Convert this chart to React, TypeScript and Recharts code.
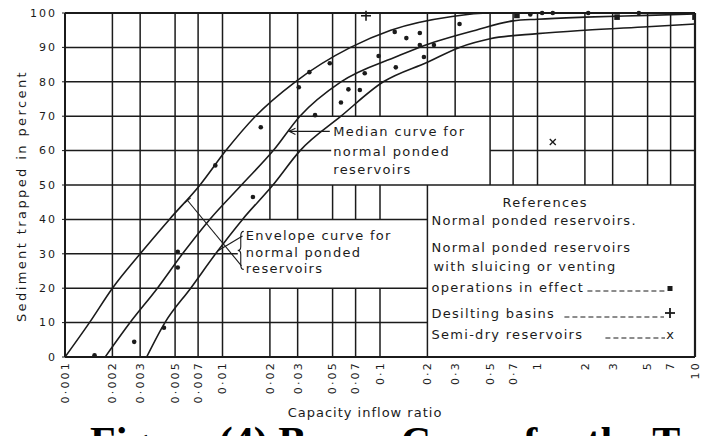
import React from "react";
import {
  ComposedChart,
  Line,
  Scatter,
  XAxis,
  YAxis,
  ReferenceLine,
} from "recharts";

const FONT = '"DejaVu Sans", sans-serif';
const INK = "#1b1b1b";

const xTicks = [0.001, 0.002, 0.003, 0.005, 0.007, 0.01, 0.02, 0.03, 0.05, 0.07, 0.1, 0.2, 0.3, 0.5, 0.7, 1, 2, 3, 5, 7, 10];
const xTickLabels = ["0·001", "0·002", "0·003", "0·005", "0·007", "0·01", "0·02", "0·03", "0·05", "0·07", "0·1", "0·2", "0·3", "0·5", "0·7", "1", "2", "3", "5", "7", "10"];
const yTicks = [0, 10, 20, 30, 40, 50, 60, 70, 80, 90, 100];

// curves: capacity/inflow ratio vs % trapped
const upperX = [0.001, 0.00143, 0.002, 0.003, 0.0046, 0.0072, 0.0105, 0.0162, 0.029, 0.065, 0.117, 0.287, 0.5, 10];
const upperY = [0, 10, 20, 30, 40, 50, 60, 70, 80, 90, 95, 99, 100, 100];
const medianX = [0.0018, 0.00259, 0.00386, 0.00557, 0.0083, 0.0132, 0.021, 0.031, 0.0565, 0.13, 0.177, 0.406, 0.7, 1, 2, 5, 10];
const medianY = [0, 10, 20, 30, 40, 50, 60, 70, 80, 87.5, 90, 95, 97.7, 98.2, 98.8, 99.3, 99.7];
const lowerX = [0.0033, 0.00431, 0.00628, 0.00904, 0.0134, 0.0209, 0.0311, 0.0565, 0.105, 0.2, 0.32, 0.5, 1, 2, 5, 10];
const lowerY = [0, 10, 20, 30, 40, 50, 60, 70, 80, 85.7, 90, 92.5, 94, 95, 96, 96.8];

// observed reservoirs
const pondedX = [0.00154, 0.00275, 0.00425, 0.0052, 0.0052, 0.009, 0.0156, 0.0175, 0.0305, 0.0356, 0.048, 0.0387, 0.0565, 0.063, 0.0745, 0.08, 0.098, 0.124, 0.126, 0.147, 0.179, 0.179, 0.19, 0.22, 0.32, 0.9, 1.07, 1.25, 2.1, 4.4];
const pondedY = [0.5, 4.4, 8.5, 26, 30.6, 55.7, 46.5, 66.8, 78.4, 82.8, 85.4, 70.3, 74, 77.8, 77.6, 82.5, 87.5, 94.5, 84.2, 92.7, 94.2, 90.7, 87.2, 90.7, 96.8, 99.6, 100, 100, 100, 100];
const sluicingX = [0.74, 3.2, 10];
const sluicingY = [99.3, 98.8, 98.8];
const desiltingX = [0.0815];
const desiltingY = [99.2];
const semiDryX = [1.25];
const semiDryY = [62.5];

// blank panels left in the grid for the notes and the key
const medianBox = { x1: 0.049, x2: 0.5, y1: 50, y2: 70 };
const envelopeBox = { x1: 0.0125, x2: 0.2, y1: 20, y2: 40 };
const legendBox = { x1: 0.2, x2: 10, y1: 0, y2: 50 };
const boxes = [medianBox, envelopeBox, legendBox];

const zip = (xs: number[], ys: number[]) => xs.map((x, i) => ({ x, y: ys[i] }));

const upperData = zip(upperX, upperY);
const medianData = zip(medianX, medianY);
const lowerData = zip(lowerX, lowerY);
const pondedData = zip(pondedX, pondedY);
const sluicingData = zip(sluicingX, sluicingY);
const desiltingData = zip(desiltingX, desiltingY);
const semiDryData = zip(semiDryX, semiDryY);

// split [lo, hi] around the gaps
function openSegments(lo: number, hi: number, gaps: [number, number][]) {
  const sorted = [...gaps].sort((a, b) => a[0] - b[0]);
  const out: [number, number][] = [];
  let cur = lo;
  for (const [a, b] of sorted) {
    if (a > cur) out.push([cur, a]);
    cur = Math.max(cur, b);
  }
  if (cur < hi) out.push([cur, hi]);
  return out;
}

type Seg = { key: string; pts: { x: number; y: number }[]; w: number };
const gridSegs: Seg[] = [];
xTicks.forEach((v, i) => {
  if (v === 0.001) return;
  const gaps = boxes.filter((b) => v > b.x1 * 1.0001 && v < b.x2 * 0.9999).map((b) => [b.y1, b.y2] as [number, number]);
  openSegments(0, 100, gaps).forEach(([a, b], j) =>
    gridSegs.push({ key: `v${i}-${j}`, pts: [{ x: v, y: a }, { x: v, y: b }], w: v === 10 ? 2.2 : 1.5 })
  );
});
yTicks.forEach((h, i) => {
  if (h === 0) return;
  const gaps = boxes.filter((b) => h > b.y1 && h < b.y2).map((b) => [b.x1, b.x2] as [number, number]);
  openSegments(0.001, 10, gaps).forEach(([a, b], j) =>
    gridSegs.push({ key: `h${i}-${j}`, pts: [{ x: a, y: h }, { x: b, y: h }], w: h === 100 ? 2.2 : 1.5 })
  );
});

const diag = (b: { x1: number; x2: number; y1: number; y2: number }) => [
  { x: b.x1, y: b.y2 },
  { x: b.x2, y: b.y1 },
];

const dotShape = (p: any) => <circle cx={p.cx} cy={p.cy} r={2.3} fill={INK} />;
const squareShape = (p: any) => <rect x={p.cx - 2.8} y={p.cy - 2.8} width={5.6} height={5.6} fill={INK} />;
const plusShape = (p: any) => (
  <g stroke={INK} strokeWidth={1.6}>
    <line x1={p.cx - 5} y1={p.cy} x2={p.cx + 5} y2={p.cy} />
    <line x1={p.cx} y1={p.cy - 5} x2={p.cx} y2={p.cy + 5} />
  </g>
);
const crossShape = (p: any) => (
  <g stroke={INK} strokeWidth={1.3}>
    <line x1={p.cx - 3} y1={p.cy - 3} x2={p.cx + 3} y2={p.cy + 3} />
    <line x1={p.cx - 3} y1={p.cy + 3} x2={p.cx + 3} y2={p.cy - 3} />
  </g>
);

const XTick = (p: any) => {
  const i = xTicks.indexOf(p.payload.value);
  return (
    <g transform={`translate(${p.x},${361})`}>
      <text transform="rotate(-90)" x={0} y={0} dy="0.35em" textAnchor="end" fontFamily={FONT} fontSize={11} letterSpacing={2.2} fill={INK}>
        {xTickLabels[i]}
      </text>
    </g>
  );
};

const YTick = (p: any) => (
  <text x={57} y={p.y} dy="0.35em" textAnchor="end" fontFamily={FONT} fontSize={11} letterSpacing={2} fill={INK}>
    {p.payload.value}
  </text>
);

const YTitle = () => (
  <text transform="translate(21,196) rotate(-90)" textAnchor="middle" dy="0.35em" fontFamily={FONT} fontSize={13} letterSpacing={2.4} fill={INK}>
    Sediment trapped in percent
  </text>
);

const XTitle = () => (
  <g>
    <text x={365} y={417} textAnchor="middle" fontFamily={FONT} fontSize={13} letterSpacing={1} fill={INK}>
      Capacity inflow ratio
    </text>
    <text x={90} y={456} fontFamily='"Liberation Serif", serif' fontWeight="bold" fontSize={42} fill="#000">
      Figure (4) Brune Curve for the Trap Efficiency
    </text>
  </g>
);

type Box = { x: number; y: number; width: number; height: number };

const medianNote = ({ x, y }: Box) => (
  <g fontFamily={FONT} fontSize={13} letterSpacing={1.4} fill={INK}>
    <text x={x + 2} y={y + 20}>Median curve for</text>
    <text x={x + 2} y={y + 40}>normal ponded</text>
    <text x={x + 2} y={y + 58}>reservoirs</text>
  </g>
);

const envelopeNote = ({ x, y }: Box) => {
  const top = y + 12;
  const bot = y + 50;
  const mid = (top + bot) / 2;
  const bx = x + 3;
  return (
    <g>
      <path
        d={`M ${bx + 3} ${top} Q ${bx} ${top} ${bx} ${top + 5} L ${bx} ${mid - 4} Q ${bx} ${mid} ${bx - 3} ${mid} Q ${bx} ${mid} ${bx} ${mid + 4} L ${bx} ${bot - 5} Q ${bx} ${bot} ${bx + 3} ${bot}`}
        fill="none"
        stroke={INK}
        strokeWidth={1.1}
      />
      <g fontFamily={FONT} fontSize={13} letterSpacing={1.3} fill={INK}>
        <text x={x + 8} y={y + 21}>Envelope curve for</text>
        <text x={x + 8} y={y + 38}>normal ponded</text>
        <text x={x + 8} y={y + 54}>reservoirs</text>
      </g>
    </g>
  );
};

const refLegend = ({ x, y, width }: Box) => {
  const tx = x + 4;
  const sx = x + width - 25;
  const dash = { stroke: INK, strokeWidth: 1, strokeDasharray: "5 3" };
  return (
    <g fontFamily={FONT} fontSize={13} letterSpacing={1.3} fill={INK}>
      <text x={x + width * 0.44} y={y + 22} textAnchor="middle">References</text>
      <text x={tx} y={y + 40}>Normal ponded reservoirs.</text>
      <text x={tx} y={y + 67}>Normal ponded reservoirs</text>
      <text x={tx + 2} y={y + 86}>with sluicing or venting</text>
      <text x={tx} y={y + 107}>operations in effect</text>
      <line x1={x + 160} y1={y + 106} x2={sx - 5} y2={y + 106} {...dash} />
      <rect x={sx - 2.5} y={y + 101} width={5} height={5} fill={INK} />
      <text x={tx} y={y + 133}>Desilting basins</text>
      <line x1={x + 137} y1={y + 132} x2={sx - 6} y2={y + 132} {...dash} />
      <g stroke={INK} strokeWidth={1.8}>
        <line x1={sx - 5} y1={y + 128} x2={sx + 5} y2={y + 128} />
        <line x1={sx} y1={y + 123} x2={sx} y2={y + 133} />
      </g>
      <text x={tx} y={y + 154}>Semi-dry reservoirs</text>
      <line x1={x + 178} y1={y + 153} x2={sx - 5} y2={y + 153} {...dash} />
      <text x={sx} y={y + 154} textAnchor="middle" letterSpacing={0}>x</text>
    </g>
  );
};

// note placed in the panel spanned by the segment's corners
const panelShape = (content: (b: Box) => React.ReactNode) => (p: any) => {
  const left = Math.min(p.x1, p.x2);
  const right = Math.max(p.x1, p.x2);
  const top = Math.min(p.y1, p.y2);
  const bottom = Math.max(p.y1, p.y2);
  return <g>{content({ x: left, y: top, width: right - left, height: bottom - top })}</g>;
};

const arrowShape = (p: any) => {
  const { x1, y1, x2, y2 } = p;
  const a = Math.atan2(y2 - y1, x2 - x1);
  const L = 7;
  const w = 0.45;
  const hx1 = x2 - L * Math.cos(a - w);
  const hy1 = y2 - L * Math.sin(a - w);
  const hx2 = x2 - L * Math.cos(a + w);
  const hy2 = y2 - L * Math.sin(a + w);
  return (
    <g stroke={INK} strokeWidth={1.1} fill="none">
      <line x1={x1} y1={y1} x2={x2} y2={y2} />
      <polyline points={`${hx1},${hy1} ${x2},${y2} ${hx2},${hy2}`} />
    </g>
  );
};

const leaderShape = (p: any) => {
  const { x1, y1, x2, y2 } = p;
  const len = Math.hypot(x2 - x1, y2 - y1) || 1;
  const nx = -(y2 - y1) / len;
  const ny = (x2 - x1) / len;
  return (
    <g stroke={INK} strokeWidth={1.1}>
      <line x1={x1} y1={y1} x2={x2} y2={y2} />
      <line x1={x1 - nx * 4} y1={y1 - ny * 4} x2={x1 + nx * 4} y2={y1 + ny * 4} />
    </g>
  );
};

const gridShape = (w: number) => (p: any) => (
  <line x1={p.x1} y1={p.y1} x2={p.x2} y2={p.y2} stroke={INK} strokeWidth={w} />
);

export default function App() {
  return (
    <div style={{ position: "fixed", left: 0, top: 0, width: 706, height: 436, background: "#fff", overflow: "hidden" }}>
      <ComposedChart width={706} height={436} margin={{ top: 13, right: 11, bottom: 0, left: 8 }}>
        <XAxis
          type="number"
          dataKey="x"
          scale="log"
          domain={[0.001, 10]}
          ticks={xTicks}
          interval={0}
          allowDataOverflow
          height={79}
          tickLine={false}
          tick={<XTick />}
          axisLine={{ stroke: INK, strokeWidth: 2 }}
          label={<XTitle />}
        />
        <YAxis
          type="number"
          dataKey="y"
          domain={[0, 100]}
          ticks={yTicks}
          interval={0}
          width={57}
          tickSize={3}
          tickLine={{ stroke: INK }}
          tick={<YTick />}
          axisLine={{ stroke: INK, strokeWidth: 2 }}
          label={<YTitle />}
        />
        {gridSegs.map((s) => (
          <ReferenceLine key={s.key} segment={s.pts} ifOverflow="visible" shape={gridShape(s.w)} />
        ))}
        <ReferenceLine segment={diag(medianBox)} ifOverflow="visible" shape={panelShape(medianNote)} />
        <ReferenceLine segment={diag(envelopeBox)} ifOverflow="visible" shape={panelShape(envelopeNote)} />
        <ReferenceLine segment={diag(legendBox)} ifOverflow="visible" shape={panelShape(refLegend)} />
        <ReferenceLine segment={[{ x: 0.048, y: 65.6 }, { x: 0.0265, y: 65.6 }]} ifOverflow="visible" shape={arrowShape} />
        <ReferenceLine segment={[{ x: 0.006, y: 45.5 }, { x: 0.0132, y: 26.5 }]} ifOverflow="visible" shape={leaderShape} />
        <ReferenceLine segment={[{ x: 0.0093, y: 30.8 }, { x: 0.0134, y: 35.2 }]} ifOverflow="visible" stroke={INK} strokeWidth={1.1} />
        <Line data={upperData} dataKey="y" type="monotone" dot={false} activeDot={false} stroke={INK} strokeWidth={1.6} isAnimationActive={false} />
        <Line data={medianData} dataKey="y" type="monotone" dot={false} activeDot={false} stroke={INK} strokeWidth={1.6} isAnimationActive={false} />
        <Line data={lowerData} dataKey="y" type="monotone" dot={false} activeDot={false} stroke={INK} strokeWidth={1.6} isAnimationActive={false} />
        <Scatter data={pondedData} shape={dotShape} isAnimationActive={false} />
        <Scatter data={sluicingData} shape={squareShape} isAnimationActive={false} />
        <Scatter data={desiltingData} shape={plusShape} isAnimationActive={false} />
        <Scatter data={semiDryData} shape={crossShape} isAnimationActive={false} />
      </ComposedChart>
    </div>
  );
}
